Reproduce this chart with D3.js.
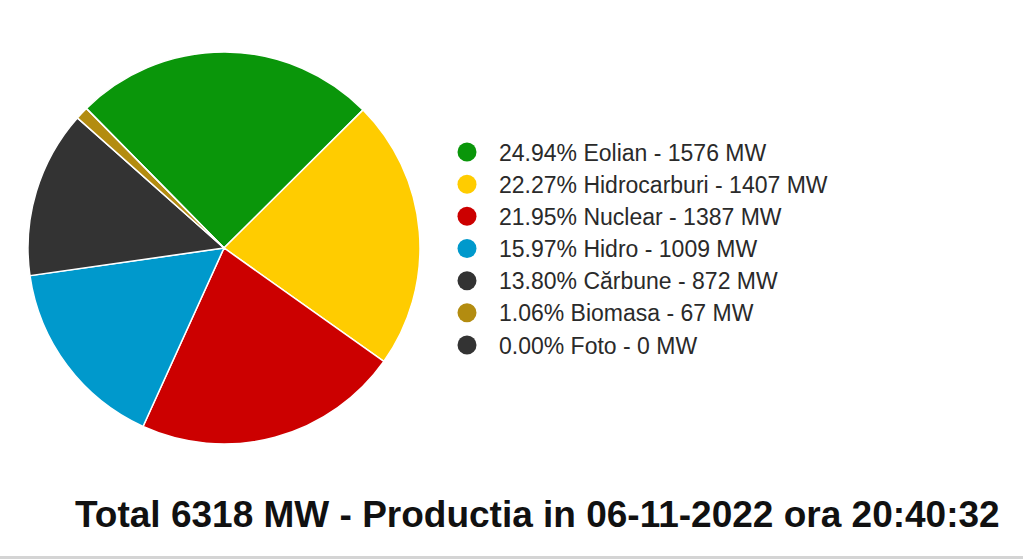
<!DOCTYPE html>
<html>
<head>
<meta charset="utf-8">
<script src="https://cdn.jsdelivr.net/npm/d3@7"></script>
<style>
  html, body { margin: 0; padding: 0; background: #fff; }
  svg { display: block; }
</style>
</head>
<body>
<svg id="chart" width="1023" height="559"></svg>
<script>
// data
var sources = ['Eolian', 'Hidrocarburi', 'Nuclear', 'Hidro', 'Cărbune', 'Biomasa', 'Foto'];
var megawatts = [1576, 1407, 1387, 1009, 872, 67, 0];
var percents = ['24.94', '22.27', '21.95', '15.97', '13.80', '1.06', '0.00'];
var colors = ['#0a960a', '#ffcc00', '#cc0000', '#0099cc', '#333333', '#b38c10', '#333333'];
var total = 6318;
var stamp = '06-11-2022 ora 20:40:32';

var svg = d3.select('#chart');

var rows = sources.map(function(s, i) {
  return { name: s, mw: megawatts[i], pct: percents[i], color: colors[i] };
});

// pie
var cx = 224, cy = 248, r = 196;
var start = -44.6 * Math.PI / 180;
var pie = d3.pie()
  .sort(null)
  .value(function(d) { return d.mw; })
  .startAngle(start)
  .endAngle(start + 2 * Math.PI);
var arc = d3.arc().innerRadius(0).outerRadius(r);

svg.append('g')
  .attr('transform', 'translate(' + cx + ',' + cy + ')')
  .selectAll('path')
  .data(pie(rows))
  .enter().append('path')
  .attr('d', arc)
  .attr('fill', function(d) { return d.data.color; })
  .attr('stroke', '#fff')
  .attr('stroke-width', 1.5);

// legend
var y = d3.scaleLinear().domain([0, 6]).range([152, 345]);
var legend = svg.append('g')
  .selectAll('g')
  .data(rows)
  .enter().append('g')
  .attr('transform', function(d, i) { return 'translate(467,' + y(i) + ')'; });

legend.append('circle')
  .attr('r', 9.5)
  .attr('fill', function(d) { return d.color; });

legend.append('text')
  .attr('x', 32)
  .attr('y', 8.5)
  .attr('font-family', 'Liberation Sans, Arial, sans-serif')
  .attr('font-size', 23)
  .attr('fill', '#2a2a2a')
  .text(function(d) { return d.pct + '% ' + d.name + ' - ' + d.mw + ' MW'; });

// title
svg.append('text')
  .attr('x', 75)
  .attr('y', 527)
  .attr('font-family', 'Liberation Sans, Arial, sans-serif')
  .attr('font-weight', 'bold')
  .attr('font-size', 37)
  .attr('fill', '#111')
  .text('Total ' + total + ' MW - Productia in ' + stamp);

// thin grey edge at the bottom of the screenshot
svg.append('rect')
  .attr('x', 0)
  .attr('y', 556)
  .attr('width', 1023)
  .attr('height', 3)
  .attr('fill', '#d4d4d4');
</script>
</body>
</html>
